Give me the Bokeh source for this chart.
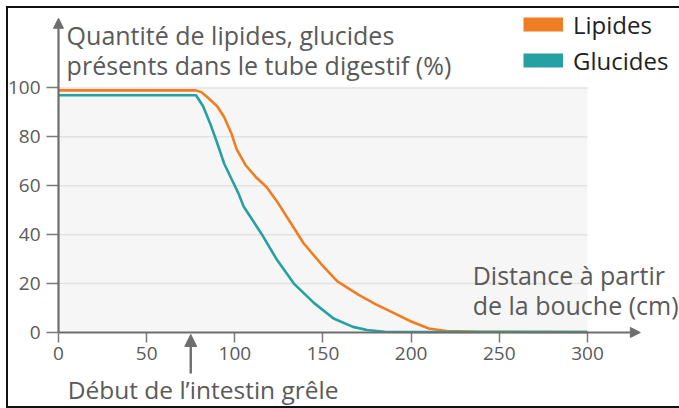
from bokeh.plotting import figure
from bokeh.models import Range1d, FixedTicker, Label, Arrow, NormalHead, Legend, LegendItem
from bokeh.embed import file_html
from bokeh.resources import INLINE

# ---- data ----
x_ticks = [0, 50, 100, 150, 200, 250, 300]
y_ticks = [0, 20, 40, 60, 80, 100]

distance_lipides = [0, 78, 81, 84, 90, 94, 98, 101, 106, 112, 118, 124, 132, 139, 149,
                    158, 170, 180, 190, 200, 210, 220, 240, 300]
lipides = [99, 99, 98.3, 96.5, 92.5, 88, 81.5, 75, 68.5, 63.5, 59.5, 53.5, 44.5, 36.5, 28,
           21, 15.5, 11.5, 8, 4.5, 1.6, 0.6, 0.3, 0.2]

distance_glucides = [0, 78, 82, 86, 90, 94, 98, 102, 105, 115, 124, 133.5, 145, 156, 167,
                     175, 185, 200, 300]
glucides = [97, 97, 92.5, 85.5, 77.5, 69, 63, 57, 51.5, 40.5, 29.6, 20, 12, 5.7, 2.3,
            1.0, 0.3, 0.2, 0.2]

debut_intestin = 75  # cm

ORANGE = "#ef7d22"
TEAL = "#26a0a3"
AXIS = "#6e6e6e"
TEXT = "#5a5a5a"
FONT = "Open Sans"
NAN = float("nan")

p = figure(width=671, height=398, x_range=Range1d(-28.36, 352.2), y_range=Range1d(-30.27, 132.5),
           output_backend="svg", toolbar_location=None,
           min_border=0, min_border_left=0, min_border_right=0, min_border_top=0, min_border_bottom=0)
p.outline_line_color = None
p.background_fill_color = "white"
p.border_fill_color = "white"
p.xgrid.visible = False
p.ygrid.visible = False
p.styles = {"position": "relative", "left": "8px", "top": "8px", "outline": "2px solid #111"}

# plot background + grid
p.quad(left=[x_ticks[0]], right=[x_ticks[-1]], bottom=[y_ticks[0]], top=[y_ticks[-1]],
       fill_color="#f6f6f6", line_color=None)
p.segment(x0=[x_ticks[0]] * (len(y_ticks) - 1), x1=[x_ticks[-1]] * (len(y_ticks) - 1),
          y0=y_ticks[1:], y1=y_ticks[1:], line_color="#e2e2e2", line_width=1.5)

# curves
p.line(distance_lipides, lipides, line_color=ORANGE, line_width=2.6, line_join="round")
p.line(distance_glucides, glucides, line_color=TEAL, line_width=2.6, line_join="round")

# axes, fixed at 0 inside the frame
for ax, ticks in ((p.xaxis[0], x_ticks), (p.yaxis[0], y_ticks)):
    ax.fixed_location = 0
    ax.ticker = FixedTicker(ticks=ticks)
    ax.axis_line_color = None
    ax.major_tick_line_color = "#7a7a7a"
    ax.major_tick_line_width = 1.5
    ax.major_tick_in = 0
    ax.minor_tick_line_color = None
    ax.major_label_text_font = FONT
    ax.major_label_text_font_size = "19px"
    ax.major_label_text_color = TEXT
p.xaxis.major_tick_out = 10
p.xaxis.major_label_standoff = 5
p.yaxis.major_tick_out = 12
p.yaxis.major_label_standoff = 6

# axis lines with arrow heads
head = dict(size=10, fill_color=AXIS, line_color=AXIS)
p.add_layout(Arrow(x_start=0, y_start=0, x_end=0, y_end=128.5, line_color=AXIS, line_width=2.2,
                   end=NormalHead(**head)))
p.add_layout(Arrow(x_start=0, y_start=0, x_end=330, y_end=0, line_color=AXIS, line_width=2.2,
                   end=NormalHead(**head)))
p.add_layout(Arrow(x_start=debut_intestin, y_start=-16.8, x_end=debut_intestin, y_end=-0.8,
                   line_color=AXIS, line_width=2.4,
                   end=NormalHead(size=12, fill_color=AXIS, line_color=AXIS)))

# texts
def lab(x, y, t, size="25px"):
    p.add_layout(Label(x=x, y=y, text=t, text_font=FONT, text_font_size=size,
                       text_color=TEXT, text_baseline="alphabetic", text_align="left"))

lab(4.6, 121.6, "Quantité de lipides, glucides")
lab(4.6, 109.3, "présents dans le tube digestif (%)")
lab(234.9, 23.6, "Distance à partir")
lab(234.9, 11.4, "de la bouche (cm)")
lab(5.2, -23.2, "Début de l’intestin grêle", size="24.5px")

# legend
r1 = p.line([NAN], [NAN], line_color=ORANGE, line_width=14)
r2 = p.line([NAN], [NAN], line_color=TEAL, line_width=14)
legend = Legend(items=[LegendItem(label="Lipides", renderers=[r1]),
                       LegendItem(label="Glucides", renderers=[r2])],
                location=(515, 329.5), orientation="vertical",
                glyph_width=40, glyph_height=30, label_height=30, label_standoff=10,
                spacing=3, padding=0, margin=0,
                border_line_color=None, background_fill_alpha=0,
                label_text_font=FONT, label_text_font_size="24px", label_text_color="#222222")
p.add_layout(legend)

open("out.html", "w").write(file_html(p, INLINE))
